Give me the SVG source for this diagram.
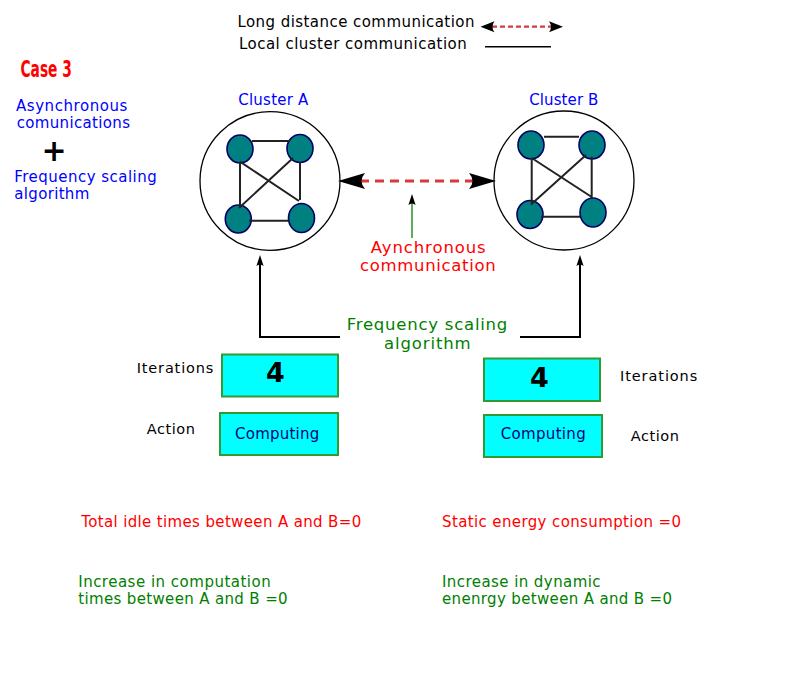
<svg xmlns="http://www.w3.org/2000/svg" width="800" height="698" viewBox="0 0 800 698">
<style>
text{font-family:"DejaVu Sans","Liberation Sans",sans-serif}
.k{fill:#000}
.r{fill:#ff0000}
.b{fill:#0000ff}
.g{fill:#008000}
.n{fill:#000080}
.t14{font-size:14.5px}
.t145{font-size:15px}
.t16{font-size:16.5px}
.cl{fill:#fff;stroke:#000;stroke-width:1.3}
.nd{fill:#008080;stroke:#000066;stroke-width:1.6}
.ed{fill:none;stroke:#222;stroke-width:2}
.box{fill:#00ffff;stroke:#339933;stroke-width:2}
.ln{fill:none;stroke:#000;stroke-width:2}
.dash{fill:none;stroke:#d9393c;stroke-width:3;stroke-dasharray:9 6}
.ah{fill:#000}
</style>
<defs>
<path id="ahBig" d="M0,0 L-27,-8 Q-20,0 -27,8 Z"/>
<path id="ahLeg" d="M0,0 L-14,-5.5 Q-10,0 -14,5.5 Z"/>
<path id="ahSmall" d="M0,0 L-11,-3.6 Q-8,0 -11,3.6 Z"/>
</defs>
<rect width="800" height="698" fill="#fff"/>

<g id="legend">
<text class="k t145" x="237.4" y="27.3" textLength="237" lengthAdjust="spacing">Long distance communication</text>
<text class="k t145" x="239" y="49" textLength="227.7" lengthAdjust="spacing">Local cluster communication</text>
<path d="M492,26.7 H552" fill="none" stroke="#d9393c" stroke-width="2.2" stroke-dasharray="5 3"/>
<use href="#ahLeg" class="ah" transform="translate(480.5,26.7) rotate(180)"/>
<use href="#ahLeg" class="ah" transform="translate(563,26.7)"/>
<path d="M485,46.7 H551" fill="none" stroke="#000" stroke-width="1.5"/>
</g>

<g id="title">
<text x="20.5" y="76.7" font-family="DejaVu Sans Condensed" font-weight="bold" font-size="23" fill="#ff0000" textLength="51.3" lengthAdjust="spacingAndGlyphs">Case 3</text>
</g>

<g id="summary">
<text class="b t145" x="16" y="111" textLength="111.3" lengthAdjust="spacing">Asynchronous</text>
<text class="b t145" x="16.7" y="128.3" textLength="113.3" lengthAdjust="spacing">comunications</text>
<text x="54" y="161" text-anchor="middle" font-weight="bold" font-size="30" fill="#000">+</text>
<text class="b t145" x="14.3" y="181.7" textLength="142.4" lengthAdjust="spacing">Frequency scaling</text>
<text class="b t145" x="14.3" y="199.3" textLength="75" lengthAdjust="spacing">algorithm</text>
</g>

<g id="clusterA">
<text class="b t145" x="238.3" y="105" textLength="70" lengthAdjust="spacing">Cluster A</text>
<ellipse class="cl" cx="270" cy="181" rx="70" ry="69.3"/>
<ellipse class="nd" cx="240" cy="149" rx="13" ry="14"/>
<ellipse class="nd" cx="300" cy="148.5" rx="13" ry="14"/>
<ellipse class="nd" cx="238.3" cy="219" rx="13" ry="14"/>
<ellipse class="nd" cx="301.5" cy="218" rx="13" ry="14.5"/>
<path class="ed" d="M252,141 H290 M240,161.7 V208 M300,162 V200 M249,220.7 H290 M240,161.7 L299,201 M293,158 L239,208"/>
</g>

<g id="clusterB">
<text class="b t145" x="529.3" y="105" textLength="69" lengthAdjust="spacing">Cluster B</text>
<ellipse class="cl" cx="564" cy="180.5" rx="70" ry="69.5"/>
<ellipse class="nd" cx="531" cy="145" rx="13" ry="14"/>
<ellipse class="nd" cx="592" cy="145" rx="13" ry="14"/>
<ellipse class="nd" cx="530" cy="214.5" rx="13" ry="14"/>
<ellipse class="nd" cx="593" cy="212.5" rx="13" ry="14.5"/>
<path class="ed" d="M544,136.7 H579 M531.7,157.7 V205 M591.7,156.7 V198 M541,216.7 H580 M531.7,158 L591.7,197 M586,155 L532.7,203"/>
</g>

<g id="asyncLabel">
<text class="r t16" x="370.7" y="253.3" textLength="115" lengthAdjust="spacing">Aynchronous</text>
<text class="r t16" x="360" y="271" textLength="135.7" lengthAdjust="spacing">communication</text>
</g>

<g id="freqLabel">
<text class="g t16" x="346.7" y="330" textLength="160.6" lengthAdjust="spacing">Frequency scaling</text>
<text class="g t16" x="384" y="349" textLength="86.7" lengthAdjust="spacing">algorithm</text>
</g>

<g id="connectors">
<path class="dash" d="M360,181 H475"/>
<use href="#ahBig" class="ah" transform="translate(338,181) rotate(180)"/>
<use href="#ahBig" class="ah" transform="translate(496,181)"/>
<path d="M412,238 V200" fill="none" stroke="#339933" stroke-width="1.6"/>
<use href="#ahSmall" class="ah" transform="translate(412,194) rotate(-90)"/>
<path class="ln" d="M340,337 H260 V262"/>
<use href="#ahSmall" class="ah" transform="translate(260,255) rotate(-90)"/>
<path class="ln" d="M520,337 H580 V262"/>
<use href="#ahSmall" class="ah" transform="translate(580,255) rotate(-90)"/>
</g>

<g id="iterA">
<text class="k t14" x="136.7" y="373.3" textLength="76.6" lengthAdjust="spacing">Iterations</text>
<rect class="box" x="222" y="354.5" width="116" height="42"/>
<text x="275.3" y="381.7" text-anchor="middle" font-weight="bold" font-size="27" fill="#000">4</text>
</g>
<g id="actionA">
<text class="k t14" x="146.7" y="434.3" textLength="48.3" lengthAdjust="spacing">Action</text>
<rect class="box" x="220" y="413" width="118" height="42"/>
<text class="n" x="235" y="439.3" font-size="15" textLength="84.3" lengthAdjust="spacing">Computing</text>
</g>
<g id="iterB">
<rect class="box" x="484" y="358.5" width="116" height="42.5"/>
<text x="539.3" y="387.3" text-anchor="middle" font-weight="bold" font-size="27" fill="#000">4</text>
<text class="k t14" x="620" y="380.7" textLength="77.3" lengthAdjust="spacing">Iterations</text>
</g>
<g id="actionB">
<rect class="box" x="484" y="415" width="118" height="42"/>
<text class="n" x="500.7" y="439.3" font-size="15" textLength="85" lengthAdjust="spacing">Computing</text>
<text class="k t14" x="630.7" y="441" textLength="48.3" lengthAdjust="spacing">Action</text>
</g>

<g id="results">
<text class="r t145" x="81.2" y="527.3" textLength="280" lengthAdjust="spacing">Total idle times between A and B=0</text>
<text class="r t145" x="442" y="527.3" textLength="239" lengthAdjust="spacing">Static energy consumption =0</text>
<text class="g t145" x="78.2" y="587.3" textLength="192.5" lengthAdjust="spacing">Increase in computation</text>
<text class="g t145" x="78.2" y="604.3" textLength="209.4" lengthAdjust="spacing">times between A and B =0</text>
<text class="g t145" x="442" y="587.3" textLength="158.6" lengthAdjust="spacing">Increase in dynamic</text>
<text class="g t145" x="442" y="604.3" textLength="230" lengthAdjust="spacing">enenrgy between A and B =0</text>
</g>
</svg>
